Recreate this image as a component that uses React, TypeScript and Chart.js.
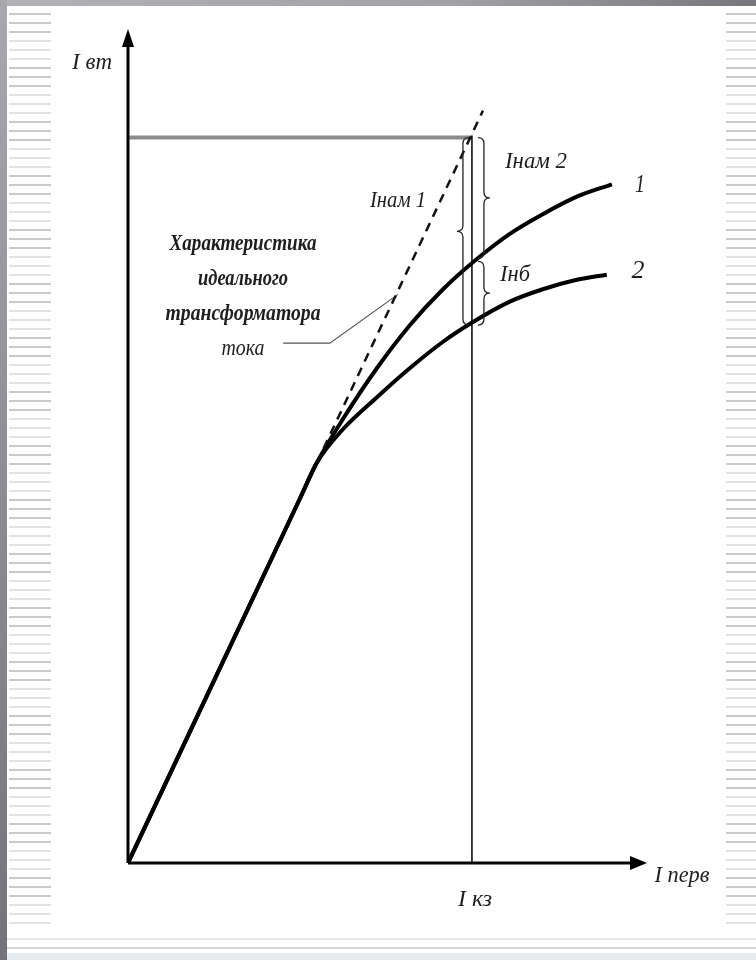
import { useEffect, useRef } from 'react';
import { Chart, registerables } from 'chart.js';

Chart.register(...registerables);

// Primary current (x, in units of Iкз) and secondary current (y)
const curve1X = [0, 0.27, 0.5, 0.549, 0.625, 0.724, 0.82, 0.916, 1.003, 1.11, 1.206, 1.305, 1.407];
const curve1Y = [0, 0.27, 0.5, 0.549, 0.609, 0.679, 0.738, 0.787, 0.824, 0.863, 0.89, 0.914, 0.931];

const curve2X = [0, 0.27, 0.5, 0.549, 0.625, 0.724, 0.82, 0.916, 1.003, 1.11, 1.206, 1.305, 1.392];
const curve2Y = [0, 0.27, 0.5, 0.549, 0.595, 0.639, 0.679, 0.715, 0.742, 0.77, 0.787, 0.8, 0.807];

const idealX = [0.549, 1.032];
const idealY = [0.549, 1.032];

const xMax = 1.509;
const yMax = 1.144;
const ikz = 1.0;
const ratedLevel = 0.995;

const leaderX = [0.451, 0.587, 0.785];
const leaderY = [0.713, 0.713, 0.78];

const curveNames = ['1', '2'];
const blockLines = ['Характеристика', 'идеального', 'трансформатора', 'тока'];

const serif = "'Liberation Serif', 'DejaVu Serif', serif";

function fitText(ctx: CanvasRenderingContext2D, text: string, cx: number, baseline: number, font: string, width: number) {
  ctx.save();
  ctx.font = font;
  const m = ctx.measureText(text).width;
  const s = width / m;
  ctx.translate(cx, baseline);
  ctx.scale(s, 1);
  ctx.textAlign = 'center';
  ctx.textBaseline = 'alphabetic';
  ctx.fillText(text, 0, 0);
  ctx.restore();
}

function brace(ctx: CanvasRenderingContext2D, x: number, y1: number, y2: number, dir: number, w: number) {
  const mid = (y1 + y2) / 2;
  ctx.beginPath();
  ctx.moveTo(x - dir * w, y1);
  ctx.quadraticCurveTo(x, y1, x, y1 + w);
  ctx.lineTo(x, mid - w);
  ctx.quadraticCurveTo(x, mid, x + dir * w, mid);
  ctx.quadraticCurveTo(x, mid, x, mid + w);
  ctx.lineTo(x, y2 - w);
  ctx.quadraticCurveTo(x, y2, x - dir * w, y2);
  ctx.stroke();
}

const backgroundPlugin = {
  id: 'bg',
  beforeDraw(chart: any) {
    const ctx: CanvasRenderingContext2D = chart.ctx;
    const W = chart.width;
    const H = chart.height;
    ctx.save();
    ctx.fillStyle = '#ffffff';
    ctx.fillRect(0, 0, W, H);
    const gt = ctx.createLinearGradient(0, 0, W, 0);
    gt.addColorStop(0, '#b3b0b6');
    gt.addColorStop(0.6, '#a3a0a6');
    gt.addColorStop(1, '#78767c');
    ctx.fillStyle = gt;
    ctx.fillRect(0, 0, W, 6);
    const gl = ctx.createLinearGradient(0, 0, 0, H);
    gl.addColorStop(0, '#a9a6ad');
    gl.addColorStop(1, '#75737a');
    ctx.fillStyle = gl;
    ctx.fillRect(0, 0, 7, H);
    for (let i = 0; ; i++) {
      const y = 13 + i * 9;
      if (y > 930) break;
      ctx.fillStyle = Math.floor(i / 3) % 2 === 0 ? '#cacaca' : '#e2e2e2';
      ctx.fillRect(9, y, 42, 2);
      ctx.fillRect(726, y, 30, 2);
    }
    ctx.fillStyle = '#e6e6e6';
    ctx.fillRect(7, 938, W - 7, 2);
    ctx.fillStyle = '#d6d6d6';
    ctx.fillRect(7, 947, W - 7, 2);
    ctx.fillStyle = '#e5ebef';
    ctx.fillRect(7, 953, W - 7, 7);
    ctx.restore();
  },
  beforeDatasetsDraw(chart: any) {
    const ctx: CanvasRenderingContext2D = chart.ctx;
    const xs = chart.scales.x;
    const ys = chart.scales.y;
    ctx.save();
    ctx.strokeStyle = '#8c8c8c';
    ctx.lineWidth = 4;
    ctx.beginPath();
    ctx.moveTo(xs.getPixelForValue(0), ys.getPixelForValue(ratedLevel));
    ctx.lineTo(xs.getPixelForValue(ikz), ys.getPixelForValue(ratedLevel));
    ctx.stroke();
    ctx.strokeStyle = '#111';
    ctx.lineWidth = 1.6;
    ctx.beginPath();
    ctx.moveTo(xs.getPixelForValue(ikz), ys.getPixelForValue(0));
    ctx.lineTo(xs.getPixelForValue(ikz), ys.getPixelForValue(ratedLevel) - 2);
    ctx.stroke();
    ctx.strokeStyle = '#555';
    ctx.lineWidth = 1.2;
    ctx.beginPath();
    leaderX.forEach((v, i) => {
      const px = xs.getPixelForValue(v);
      const py = ys.getPixelForValue(leaderY[i]);
      if (i === 0) ctx.moveTo(px, py);
      else ctx.lineTo(px, py);
    });
    ctx.stroke();
    ctx.restore();
  },
  afterDatasetsDraw(chart: any) {
    const ctx: CanvasRenderingContext2D = chart.ctx;
    const xs = chart.scales.x;
    const ys = chart.scales.y;
    const { left, right, top, bottom } = chart.chartArea;
    ctx.save();
    ctx.strokeStyle = '#000';
    ctx.fillStyle = '#000';
    ctx.lineWidth = 3;
    ctx.beginPath();
    ctx.moveTo(left, bottom);
    ctx.lineTo(left, top + 14);
    ctx.moveTo(left, bottom);
    ctx.lineTo(right - 14, bottom);
    ctx.stroke();
    ctx.beginPath();
    ctx.moveTo(left, top);
    ctx.lineTo(left - 6, top + 18);
    ctx.lineTo(left + 6, top + 18);
    ctx.closePath();
    ctx.fill();
    ctx.beginPath();
    ctx.moveTo(right, bottom);
    ctx.lineTo(right - 17, bottom - 7);
    ctx.lineTo(right - 17, bottom + 7);
    ctx.closePath();
    ctx.fill();

    const xk = xs.getPixelForValue(ikz);
    const yTop = ys.getPixelForValue(ratedLevel);
    const y1 = ys.getPixelForValue(curve1Y[8]);
    const y2 = ys.getPixelForValue(curve2Y[8]);
    ctx.lineWidth = 1.3;
    ctx.strokeStyle = '#222';
    brace(ctx, xk - 9, yTop, y2 + 3, -1, 6);
    brace(ctx, xk + 12, yTop, y1 - 4, 1, 6);
    brace(ctx, xk + 12, y1 - 1, y2 + 3, 1, 6);

    ctx.fillStyle = '#1e1e1e';
    const f = `italic 23px ${serif}`;
    fitText(ctx, 'I вт', 92, 69, f, 40);
    fitText(ctx, 'Iнам 2', 536, 168, f, 62);
    fitText(ctx, 'Iнам 1', 398, 207, f, 56);
    fitText(ctx, 'Iнб', 515, 281, f, 30);
    fitText(ctx, curveNames[0], 640, 192, `italic 25px ${serif}`, 10);
    fitText(ctx, curveNames[1], 638, 278, `italic 25px ${serif}`, 13);
    fitText(ctx, 'I перв', 682, 882, f, 55);
    fitText(ctx, 'I кз', 475, 906, f, 34);

    const bf = `italic bold 23px ${serif}`;
    const widths = [147, 90, 155, 43];
    const bases = [250, 285, 320, 355];
    blockLines.forEach((t, i) => {
      fitText(ctx, t, 243, bases[i], i === 3 ? `italic 23px ${serif}` : bf, widths[i]);
    });
    ctx.restore();
  },
};

export default function App() {
  const ref = useRef<HTMLCanvasElement>(null);
  useEffect(() => {
    document.body.style.margin = '0';
    const canvas = ref.current;
    if (!canvas) return;
    const toPts = (xa: number[], ya: number[]) => xa.map((x, i) => ({ x, y: ya[i] }));
    const chart = new Chart(canvas, {
      type: 'scatter',
      data: {
        datasets: [
          {
            label: 'ideal',
            data: toPts(idealX, idealY),
            showLine: true,
            borderColor: '#111',
            borderWidth: 2.5,
            borderDash: [9, 7],
            pointRadius: 0,
          },
          {
            label: curveNames[1],
            data: toPts(curve2X, curve2Y),
            showLine: true,
            borderColor: '#000',
            borderWidth: 4,
            pointRadius: 0,
            cubicInterpolationMode: 'monotone',
          },
          {
            label: curveNames[0],
            data: toPts(curve1X, curve1Y),
            showLine: true,
            borderColor: '#000',
            borderWidth: 4,
            pointRadius: 0,
            cubicInterpolationMode: 'monotone',
          },
        ],
      },
      options: {
        responsive: false,
        animation: false,
        devicePixelRatio: 1,
        layout: { padding: { left: 128, right: 109, top: 29, bottom: 97 } },
        plugins: { legend: { display: false }, tooltip: { enabled: false } },
        scales: {
          x: { type: 'linear', min: 0, max: xMax, display: false },
          y: { type: 'linear', min: 0, max: yMax, display: false },
        },
      },
      plugins: [backgroundPlugin],
    } as any);
    return () => chart.destroy();
  }, []);
  return (
    <div style={{ width: 756, height: 960 }}>
      <canvas ref={ref} width={756} height={960} style={{ display: 'block' }} />
    </div>
  );
}
